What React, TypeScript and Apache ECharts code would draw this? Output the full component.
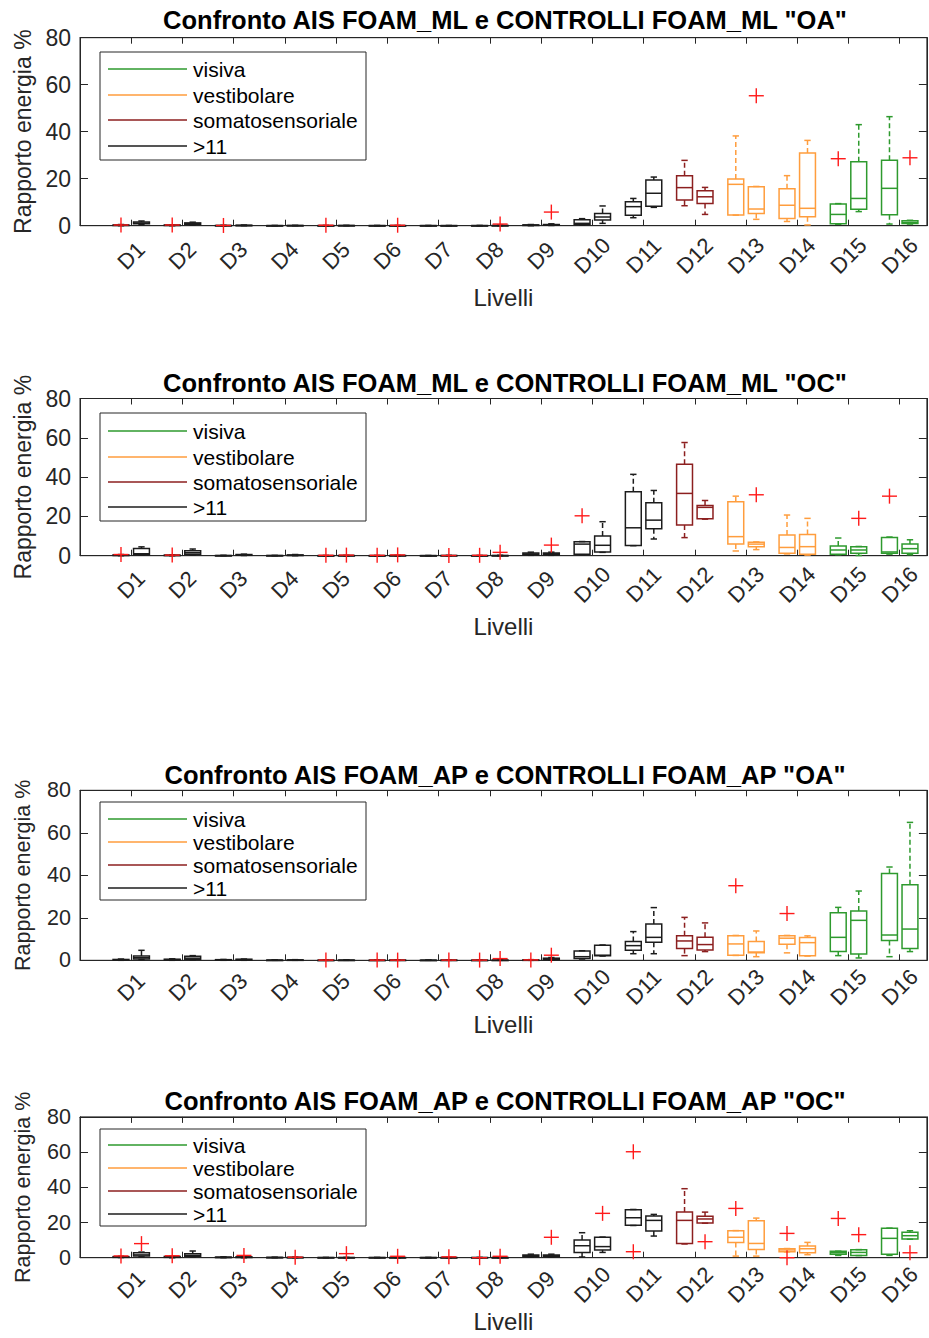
import React, { useEffect, useRef } from "react";
import * as echarts from "echarts";

const LEVELS = ["D1","D2","D3","D4","D5","D6","D7","D8","D9","D10","D11","D12","D13","D14","D15","D16"];
const Y_TICKS = [0, 20, 40, 60, 80];
const LEGEND_LABELS = ["visiva", "vestibolare", "somatosensoriale", ">11"];
const LEGEND_COLORS = ["#2e9a2e", "#ff9d3d", "#8c1f1f", "#1c1c1c"];
// legend group index for each level D1..D16
const LEVEL_GROUP = [3,3,3,3,3,3,3,3,3,3,3,2,1,1,0,0];
const TITLES = [
  'Confronto AIS FOAM_ML e CONTROLLI FOAM_ML "OA"',
  'Confronto AIS FOAM_ML e CONTROLLI FOAM_ML "OC"',
  'Confronto AIS FOAM_AP e CONTROLLI FOAM_AP "OA"',
  'Confronto AIS FOAM_AP e CONTROLLI FOAM_AP "OC"',
];
const X_NAME = "Livelli";
const Y_NAME = "Rapporto energia %";

// each box: [lowWhisker, q1, median, q3, highWhisker]
const ML_OA_AIS = [
  [0,0.1,0.2,0.3,0.5],[0,0.1,0.2,0.3,0.4],[0,0,0.05,0.1,0.15],[0,0,0.02,0.05,0.1],
  [0,0,0.02,0.05,0.1],[0,0,0.02,0.05,0.1],[0,0,0.02,0.05,0.1],[0,0,0.02,0.05,0.1],
  [0,0.1,0.2,0.35,0.5],[0.2,0.5,1.0,2.5,3.0],[3.4,4.5,8.1,10.2,11.6],[8.5,10.9,16.2,21.3,27.8],
  [4.5,4.6,17.6,19.9,38.2],[1.8,3.1,8.7,15.7,21.3],[0.6,0.8,4.8,9.2,9.4],[0.7,4.7,15.9,27.8,46.4],
];
const ML_OA_CTRL = [
  [0.4,0.8,1.1,1.6,2.0],[0.3,0.6,0.8,1.2,1.5],[0,0.05,0.1,0.2,0.3],[0,0.02,0.05,0.1,0.15],
  [0,0.02,0.05,0.1,0.15],[0,0.01,0.02,0.04,0.08],[0,0.01,0.02,0.04,0.08],[0,0.02,0.05,0.1,0.2],
  [0.1,0.2,0.35,0.5,0.8],[1.0,2.4,3.7,5.2,8.4],[7.8,8.3,13.8,19.4,20.7],[4.8,9.5,12.3,14.9,16.3],
  [2.7,5.2,7.1,16.6,16.7],[0.3,3.8,7.4,30.9,36.3],[6.0,7.0,11.6,27.2,43.0],[0.7,0.9,1.4,2.1,2.3],
];
// outliers: [level, side (0 = AIS, 1 = CONTROLLI), value]
const ML_OA_OUT = [[1,0,0.3],[2,0,0.3],[3,0,0.1],[5,0,0.2],[6,1,0.2],[8,1,0.7],[9,1,5.8],[13,1,55.3],[15,0,28.5],[16,1,28.9]];

const ML_OC_AIS = [
  [0,0.1,0.2,0.4,0.6],[0,0.1,0.2,0.3,0.4],[0,0,0.05,0.1,0.2],[0,0,0.05,0.1,0.15],
  [0,0,0.02,0.05,0.1],[0,0,0.02,0.05,0.1],[0,0,0.02,0.05,0.1],[0,0,0.02,0.05,0.1],
  [0.2,0.5,0.9,1.4,1.8],[0.5,0.7,5.9,7.1,7.2],[5.1,5.2,14.2,32.5,41.4],[9.2,15.6,31.7,46.6,57.6],
  [2.4,5.9,9.7,27.5,30.3],[0.9,1.2,4.2,10.5,20.7],[0.5,0.8,2.9,4.9,9.0],[0.8,1.2,1.9,9.3,9.5],
];
const ML_OC_CTRL = [
  [0.3,0.5,1.0,3.7,4.5],[0.4,0.7,1.5,2.5,3.4],[0.1,0.2,0.4,0.6,0.8],[0,0.1,0.2,0.4,0.6],
  [0,0.02,0.05,0.1,0.15],[0,0.02,0.05,0.1,0.15],[0,0.02,0.05,0.1,0.15],[0,0.02,0.05,0.1,0.2],
  [0.2,0.5,1.0,1.4,1.8],[1.7,1.9,5.3,10.0,17.3],[8.5,13.7,18.1,26.9,33.2],[18.6,18.8,24.6,25.6,28.1],
  [3.1,4.6,5.9,6.9,7.0],[0.3,0.7,4.6,10.8,19.0],[0.1,1.2,2.9,4.6,4.7],[0.5,1.2,3.6,5.9,8.1],
];
const ML_OC_OUT = [[1,0,0.6],[2,0,0.3],[5,0,0.2],[5,1,0.3],[6,0,0.2],[6,1,0.4],[7,1,0.1],[8,0,0.2],[8,1,1.7],[9,1,5.4],[10,0,20.3],[13,1,31.0],[15,1,19.0],[16,0,30.3]];

const AP_OA_AIS = [
  [0,0.1,0.2,0.4,0.6],[0,0.1,0.3,0.5,0.7],[0,0.1,0.2,0.3,0.4],[0,0,0.05,0.1,0.15],
  [0,0,0.02,0.05,0.1],[0,0,0.02,0.05,0.1],[0,0,0.02,0.05,0.1],[0,0,0.02,0.05,0.1],
  [0,0.05,0.1,0.2,0.3],[0.6,0.9,1.7,4.4,4.5],[3.1,4.7,6.9,8.9,13.5],[2.2,5.5,9.1,11.6,20.2],
  [2.3,2.4,7.7,11.6,11.7],[3.5,7.5,10.4,11.6,11.7],[2.2,4.1,10.8,22.4,24.9],[1.7,9.3,11.9,40.8,43.9],
];
const AP_OA_CTRL = [
  [0.3,0.6,1.2,2.0,4.7],[0.2,0.5,1.0,1.9,2.2],[0,0.1,0.3,0.5,0.6],[0,0.05,0.1,0.2,0.3],
  [0,0.02,0.05,0.1,0.15],[0,0.02,0.05,0.1,0.15],[0,0.02,0.05,0.1,0.15],[0,0.02,0.05,0.1,0.2],
  [0.1,0.3,0.6,1.0,1.3],[2.0,2.1,2.4,7.1,7.2],[3.1,8.5,10.8,17.1,24.8],[4.1,4.9,7.4,10.8,17.6],
  [1.7,3.6,3.9,8.8,13.8],[2.0,2.2,8.3,10.7,11.5],[1.1,3.0,18.8,23.2,32.6],[4.1,5.5,14.7,35.5,64.9],
];
const AP_OA_OUT = [[5,0,0.1],[6,0,0.1],[6,1,0.1],[7,1,0.1],[8,0,0.1],[8,1,0.8],[9,0,0.2],[9,1,2.4],[13,0,35.1],[14,0,22.0]];

const AP_OC_AIS = [
  [0.1,0.2,0.4,0.6,0.8],[0,0.2,0.4,0.7,0.9],[0,0.1,0.2,0.35,0.5],[0,0.05,0.1,0.2,0.3],
  [0,0,0.05,0.1,0.15],[0,0,0.05,0.1,0.15],[0,0,0.05,0.1,0.15],[0,0,0.05,0.1,0.15],
  [0.3,0.6,1.1,1.6,2.0],[0.4,3.0,6.8,10.0,14.2],[18.3,18.4,22.7,27.3,27.4],[7.8,8.1,21.2,25.9,39.2],
  [0.9,8.7,11.6,15.3,15.4],[3.3,3.4,4.4,5.1,5.2],[1.3,1.9,2.8,3.6,3.7],[1.3,1.9,11.0,16.7,16.8],
];
const AP_OC_CTRL = [
  [0.5,0.9,1.6,2.8,3.2],[0.5,0.8,1.3,2.3,3.8],[0,0.1,0.3,0.5,0.7],[0,0.05,0.1,0.2,0.3],
  [0,0.02,0.05,0.1,0.15],[0,0.02,0.05,0.1,0.15],[0,0.02,0.05,0.1,0.15],[0,0.02,0.05,0.1,0.2],
  [0.3,0.6,1.1,1.6,2.0],[3.0,4.4,6.3,11.6,11.7],[12.3,15.2,21.2,23.7,24.6],[19.6,19.7,22.0,23.5,25.9],
  [0.9,4.7,8.1,21.0,22.5],[1.7,2.8,5.1,6.6,8.7],[1.2,1.3,3.0,4.5,4.6],[10.5,10.6,12.5,14.4,15.3],
];
const AP_OC_OUT = [[1,0,1.0],[1,1,8.0],[2,0,1.1],[3,1,1.3],[4,1,0.3],[5,1,2.3],[6,1,0.8],[7,1,0.5],[8,0,0],[8,1,0.8],[9,1,11.6],[10,1,25.2],[11,0,60.2],[11,0,3.4],[12,1,9.1],[13,0,28.0],[14,0,13.8],[14,0,0],[15,0,22.3],[15,1,13.1],[16,1,2.8]];

const DATASETS = [
  { ais: ML_OA_AIS, ctrl: ML_OA_CTRL, out: ML_OA_OUT },
  { ais: ML_OC_AIS, ctrl: ML_OC_CTRL, out: ML_OC_OUT },
  { ais: AP_OA_AIS, ctrl: AP_OA_CTRL, out: AP_OA_OUT },
  { ais: AP_OC_AIS, ctrl: AP_OC_CTRL, out: AP_OC_OUT },
];

// layout (pixels)
const PANELS = [
  { top: 37.7, height: 188, titleY: 20, legTop: 52, legH: 108, rows: [69, 95, 120, 146], lblMargin: 30, xNameGap: 60, yFont: 23, yNameGap: 46 },
  { top: 398.5, height: 157.2, titleY: 383, legTop: 413, legH: 108, rows: [431, 457, 482, 507], lblMargin: 29, xNameGap: 59, yFont: 23, yNameGap: 46 },
  { top: 790.3, height: 170, titleY: 775, legTop: 802, legH: 98, rows: [819, 842, 865, 888], lblMargin: 27, xNameGap: 52, yFont: 21.5, yNameGap: 46 },
  { top: 1116.9, height: 140.8, titleY: 1101, legTop: 1129, legH: 97, rows: [1145, 1168, 1191, 1214], lblMargin: 27, xNameGap: 52, yFont: 21.5, yNameGap: 46 },
];
const GRID_LEFT = 80;
const GRID_WIDTH = 848;
const X_MAX = 16.53;
const OFFSET = 0.2;
const BOX_W = 0.31;
const FONT = '"Liberation Sans", Arial, Helvetica, sans-serif';
const AX = "#262626";

function buildOption() {
  const grid: any[] = [];
  const xAxis: any[] = [];
  const yAxis: any[] = [];
  const series: any[] = [];
  const graphic: any[] = [];

  PANELS.forEach((p, i) => {
    grid.push({
      left: GRID_LEFT, top: p.top, width: GRID_WIDTH, height: p.height,
      show: true, borderColor: AX, borderWidth: 1, backgroundColor: "transparent",
    });
    const fmtX = (v: number) => {
      const r = Math.round(v);
      return Math.abs(v - r) < 1e-6 && r >= 1 && r <= 16 ? LEVELS[r - 1] : "";
    };
    xAxis.push({
      type: "value", gridIndex: i, min: 0, max: X_MAX, interval: 1, position: "bottom",
      axisLine: { show: true, onZero: false, lineStyle: { color: AX, width: 1 } },
      axisTick: { show: true, inside: true, length: 6, lineStyle: { color: AX } },
      axisLabel: {
        show: true, rotate: 45, align: "center", verticalAlign: "middle", margin: p.lblMargin,
        fontSize: 22, color: AX, fontFamily: FONT, formatter: fmtX,
        showMinLabel: true, showMaxLabel: true,
      },
      splitLine: { show: false },
      name: X_NAME, nameLocation: "middle", nameGap: p.xNameGap,
      nameTextStyle: { fontSize: 24, color: AX, fontFamily: FONT },
    });
    xAxis.push({
      type: "value", gridIndex: i, min: 0, max: X_MAX, interval: 1, position: "top",
      axisLine: { show: true, onZero: false, lineStyle: { color: AX, width: 1 } },
      axisTick: { show: true, inside: true, length: 6, lineStyle: { color: AX } },
      axisLabel: { show: false }, splitLine: { show: false },
    });
    yAxis.push({
      type: "value", gridIndex: i, min: Y_TICKS[0], max: Y_TICKS[Y_TICKS.length - 1],
      interval: Y_TICKS[1] - Y_TICKS[0], position: "left",
      axisLine: { show: true, onZero: false, lineStyle: { color: AX, width: 1 } },
      axisTick: { show: true, inside: true, length: 8, lineStyle: { color: AX } },
      axisLabel: { show: true, margin: 9, fontSize: p.yFont, color: AX, fontFamily: FONT },
      splitLine: { show: false },
      name: Y_NAME, nameLocation: "middle", nameGap: p.yNameGap,
      nameTextStyle: { fontSize: p.yFont, color: AX, fontFamily: FONT },
    });
    yAxis.push({
      type: "value", gridIndex: i, min: Y_TICKS[0], max: Y_TICKS[Y_TICKS.length - 1],
      interval: Y_TICKS[1] - Y_TICKS[0], position: "right",
      axisLine: { show: true, onZero: false, lineStyle: { color: AX, width: 1 } },
      axisTick: { show: true, inside: true, length: 8, lineStyle: { color: AX } },
      axisLabel: { show: false }, splitLine: { show: false },
    });

    const ds = DATASETS[i];
    const boxData: any[] = [];
    LEVELS.forEach((_, k) => {
      const g = LEVEL_GROUP[k];
      boxData.push([k + 1 - OFFSET, ...ds.ais[k], g]);
      boxData.push([k + 1 + OFFSET, ...ds.ctrl[k], g]);
    });
    series.push({
      type: "custom", xAxisIndex: i * 2, yAxisIndex: i * 2, data: boxData,
      encode: { x: 0, y: [1, 2, 3, 4, 5] },
      renderItem: (params: any, api: any) => {
        const x = api.value(0);
        const color = LEGEND_COLORS[api.value(6)];
        const pLow = api.coord([x, api.value(1)]);
        const pQ1 = api.coord([x, api.value(2)]);
        const pMed = api.coord([x, api.value(3)]);
        const pQ3 = api.coord([x, api.value(4)]);
        const pHigh = api.coord([x, api.value(5)]);
        const hw = api.size([BOX_W, 0])[0] / 2;
        const cw = hw * 0.4;
        const cx = pQ1[0];
        const lw = 1.5;
        const dash = [5, 3];
        return {
          type: "group",
          children: [
            { type: "line", shape: { x1: cx, y1: pQ3[1], x2: cx, y2: pHigh[1] }, style: { stroke: color, lineWidth: lw, lineDash: dash } },
            { type: "line", shape: { x1: cx, y1: pQ1[1], x2: cx, y2: pLow[1] }, style: { stroke: color, lineWidth: lw, lineDash: dash } },
            { type: "line", shape: { x1: cx - cw, y1: pHigh[1], x2: cx + cw, y2: pHigh[1] }, style: { stroke: color, lineWidth: lw } },
            { type: "line", shape: { x1: cx - cw, y1: pLow[1], x2: cx + cw, y2: pLow[1] }, style: { stroke: color, lineWidth: lw } },
            { type: "rect", shape: { x: cx - hw, y: pQ3[1], width: hw * 2, height: Math.max(pQ1[1] - pQ3[1], 0.5) }, style: { fill: "none", stroke: color, lineWidth: lw } },
            { type: "line", shape: { x1: cx - hw, y1: pMed[1], x2: cx + hw, y2: pMed[1] }, style: { stroke: color, lineWidth: lw } },
          ],
        };
      },
      z: 3,
    });
    const outData = ds.out.map((o) => [o[0] + (o[1] === 0 ? -OFFSET : OFFSET), o[2]]);
    series.push({
      type: "custom", xAxisIndex: i * 2, yAxisIndex: i * 2, data: outData,
      encode: { x: 0, y: 1 },
      renderItem: (params: any, api: any) => {
        const p = api.coord([api.value(0), api.value(1)]);
        const a = 7.5;
        return {
          type: "group",
          children: [
            { type: "line", shape: { x1: p[0] - a, y1: p[1], x2: p[0] + a, y2: p[1] }, style: { stroke: "#ff1a1a", lineWidth: 1.4 } },
            { type: "line", shape: { x1: p[0], y1: p[1] - a, x2: p[0], y2: p[1] + a }, style: { stroke: "#ff1a1a", lineWidth: 1.4 } },
          ],
        };
      },
      z: 4,
    });

    // title
    graphic.push({
      type: "text", x: 505, y: p.titleY, z: 100,
      style: { text: TITLES[i], fontSize: 25.5, fontWeight: "bold", fontFamily: FONT, fill: "#000", align: "center", verticalAlign: "middle" },
    });
    // legend
    const legChildren: any[] = [
      { type: "rect", shape: { x: 100, y: p.legTop, width: 266, height: p.legH }, style: { fill: "#fff", stroke: AX, lineWidth: 1 } },
    ];
    LEGEND_LABELS.forEach((lab, j) => {
      legChildren.push({ type: "line", shape: { x1: 108, y1: p.rows[j], x2: 187, y2: p.rows[j] }, style: { stroke: LEGEND_COLORS[j], lineWidth: 1.4 } });
      legChildren.push({ type: "text", x: 193, y: p.rows[j], style: { text: lab, fontSize: 21, fontFamily: FONT, fill: "#000", align: "left", verticalAlign: "middle" } });
    });
    graphic.push({ type: "group", z: 100, children: legChildren });
  });

  return { animation: false, backgroundColor: "#fff", grid, xAxis, yAxis, series, graphic };
}

export default function App() {
  const ref = useRef<HTMLDivElement>(null);
  useEffect(() => {
    if (!ref.current) return;
    const chart = echarts.init(ref.current, undefined, { renderer: "svg" });
    chart.setOption(buildOption() as any);
    return () => chart.dispose();
  }, []);
  return (
    <div
      ref={ref}
      style={{ position: "absolute", left: 0, top: 0, width: 929, height: 1338, background: "#fff" }}
    />
  );
}
